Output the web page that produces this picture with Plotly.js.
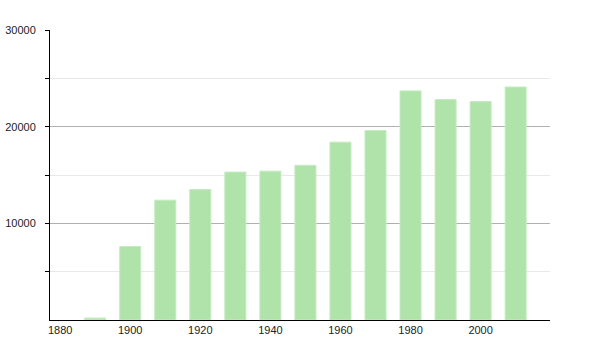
<!DOCTYPE html>
<html>
<head>
<meta charset="utf-8">
<script src="https://cdn.plot.ly/plotly-3.0.1.min.js"></script>
<style>html,body{margin:0;padding:0;background:#fff;}#chart{width:600px;height:350px;}</style>
</head>
<body>
<div id="chart"></div>
<script>
const years = [1890, 1900, 1910, 1920, 1930, 1940, 1950, 1960, 1970, 1980, 1990, 2000, 2010];
const population = [200, 7600, 12400, 13500, 15300, 15400, 16000, 18400, 19600, 23700, 22800, 22600, 24100];
const xTickVals = [1880, 1900, 1920, 1940, 1960, 1980, 2000];
const yTickVals = [10000, 20000, 30000];
const yMinorVals = [5000, 15000, 25000];

Plotly.newPlot('chart', [{
  type: 'bar',
  x: years,
  y: population,
  width: 6,
  marker: {color: '#b0e3aa', line: {color: '#c4ebbf', width: 1}},
  hoverinfo: 'x+y'
}], {
  width: 600, height: 350,
  margin: {l: 50, r: 50, t: 30, b: 30},
  paper_bgcolor: '#fff', plot_bgcolor: '#fff',
  showlegend: false,
  font: {family: 'Liberation Sans, Arial, sans-serif', size: 11, color: '#222'},
  xaxis: {
    range: [1877.1, 2019.8],
    tickvals: xTickVals,
    ticktext: xTickVals.map(String),
    showgrid: false, zeroline: false,
    showline: true, linecolor: '#000', linewidth: 1,
    ticks: '', ticklen: 0,
    tickfont: {size: 11, color: '#222'}
  },
  yaxis: {
    range: [0, 30000],
    tickvals: yTickVals,
    ticktext: yTickVals.map(String),
    showgrid: true, gridcolor: '#b0b0b0', gridwidth: 1,
    zeroline: false,
    showline: true, linecolor: '#000', linewidth: 1,
    ticks: 'outside', ticklen: 4, tickcolor: '#000',
    ticklabelstandoff: 7,
    tickfont: {size: 11, color: '#222'},
    minor: {tickvals: yMinorVals, showgrid: true, gridcolor: '#e8e8e8', ticks: 'outside', ticklen: 4, tickcolor: '#000'}
  },
  bargap: 0
}, {displayModeBar: false, staticPlot: true});
</script>
</body>
</html>
